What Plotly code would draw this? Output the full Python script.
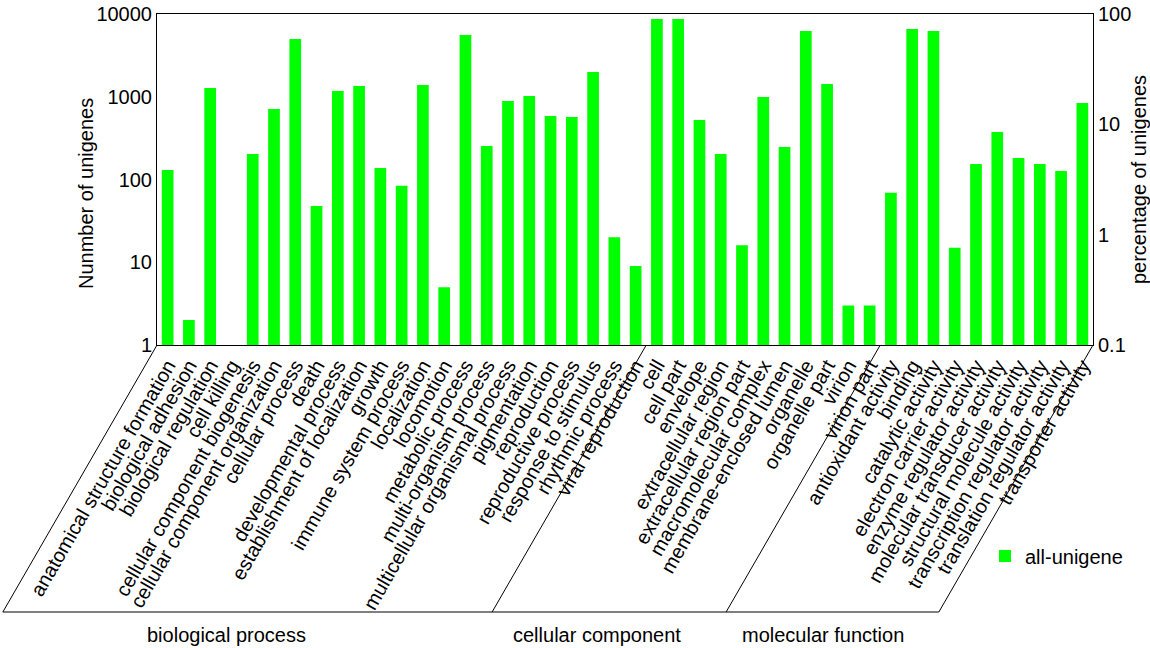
import math
import plotly.graph_objects as go

# ---------------- data ----------------
bio_terms = [
    "anatomical structure formation", "biological adhesion", "biological regulation",
    "cell killing", "cellular component biogenesis", "cellular component organization",
    "cellular process", "death", "developmental process", "establishment of localization",
    "growth", "immune system process", "localization", "locomotion", "metabolic process",
    "multi-organism process", "multicellular organismal process", "pigmentation",
    "reproduction", "reproductive process", "response to stimulus", "rhythmic process",
    "viral reproduction",
]
bio_counts = [130, 2, 1280, None, 203, 710, 4990, 48, 1170, 1350,
              138, 84, 1390, 5, 5580, 254, 890, 1020, 585, 570, 1990, 20, 9]

cc_terms = [
    "cell", "cell part", "envelope", "extracellular region", "extracellular region part",
    "macromolecular complex", "membrane-enclosed lumen", "organelle", "organelle part",
    "virion", "virion part",
]
cc_counts = [8700, 8700, 524, 203, 16, 993, 247, 6230, 1430, 3, 3]

mf_terms = [
    "antioxidant activity", "binding", "catalytic activity", "electron carrier activity",
    "enzyme regulator activity", "molecular transducer activity",
    "structural molecule activity", "transcription regulator activity",
    "translation regulator activity", "transporter activity",
]
mf_counts = [69, 6590, 6230, 15, 154, 375, 182, 154, 127, 840]

groups = ["biological process", "cellular component", "molecular function"]
left_ticks = [1, 10, 100, 1000, 10000]
right_ticks = [0.1, 1, 10, 100]
series_name = "all-unigene"
left_title = "Nunmber of unigenes"
right_title = "percentage of unigenes"

# ---------------- layout geometry ----------------
W, H = 1150, 648
ML, MR, MT, MB = 157, 57, 14, 303
PW, PH = W - ML - MR, H - MT - MB
FONT = "Arial, Liberation Sans, sans-serif"
GREEN = "#00ff00"

cats = bio_terms + cc_terms + mf_terms
vals = bio_counts + cc_counts + mf_counts
n = len(cats)

fig = go.Figure()
fig.add_trace(go.Bar(
    x=cats, y=vals, name=series_name, marker_color=GREEN, marker_line_width=0,
    yaxis="y",
))
fig.add_trace(go.Scatter(x=[cats[0]], y=[None], yaxis="y2", showlegend=False,
                         hoverinfo="skip", mode="markers"))

# slanted separators and bottom line
drop_px = 267
dx_px = drop_px / math.tan(math.radians(60))
dy_paper = -drop_px / PH
dx_paper = dx_px / PW
bounds = [0, len(bio_terms), len(bio_terms) + len(cc_terms), n]
shapes = []
for b in bounds:
    x0 = b / n
    shapes.append(dict(type="line", xref="paper", yref="paper", x0=x0, y0=0,
                       x1=x0 - dx_paper, y1=dy_paper, line=dict(color="black", width=1)))
shapes.append(dict(type="line", xref="paper", yref="paper", x0=-dx_paper, y0=dy_paper,
                   x1=1 - dx_paper, y1=dy_paper, line=dict(color="black", width=1)))

# group labels
label_px = [226, 597, 823]
annotations = []
for g, px in zip(groups, label_px):
    annotations.append(dict(text=g, xref="paper", yref="paper", x=(px - ML) / PW,
                            y=(H - MB - 635) / PH, showarrow=False,
                            font=dict(size=20, color="black", family=FONT),
                            xanchor="center", yanchor="middle"))
# left axis title
annotations.append(dict(text=left_title, xref="paper", yref="paper",
                        x=(86 - ML) / PW, y=(H - MB - 194) / PH, showarrow=False,
                        textangle=-90, font=dict(size=20, color="black", family=FONT),
                        xanchor="center", yanchor="middle"))

fig.update_layout(
    width=W, height=H,
    margin=dict(l=ML, r=MR, t=MT, b=MB, pad=0, autoexpand=False),
    paper_bgcolor="white", plot_bgcolor="white",
    font=dict(family=FONT, size=20, color="black"),
    bargap=0.45,
    shapes=shapes, annotations=annotations,
    showlegend=True,
    legend=dict(x=(985 - ML) / PW, y=(H - MB - 556) / PH, xanchor="left", yanchor="middle",
                font=dict(size=20, color="black", family=FONT), bgcolor="rgba(0,0,0,0)",
                itemwidth=30),
    xaxis=dict(type="category", tickmode="array", tickvals=cats, ticktext=cats,
               tickangle=-60, showline=True, linecolor="black", linewidth=1, mirror=True,
               ticks="", showgrid=False, tickfont=dict(size=20, family=FONT, color="black"),
               range=[-0.5, n - 0.5], automargin=False),
    yaxis=dict(type="log", range=[0, 4], tickvals=left_ticks,
               ticktext=[str(v) for v in left_ticks], showline=True, linecolor="black",
               linewidth=1, ticks="", showgrid=False, zeroline=False, automargin=False,
               tickfont=dict(size=20, family=FONT, color="black")),
    yaxis2=dict(type="log", range=[-1, 2], overlaying="y", side="right",
                tickvals=right_ticks, ticktext=[str(v) for v in right_ticks],
                showline=True, linecolor="black", linewidth=1, ticks="", showgrid=False,
                zeroline=False, automargin=False,
                title=dict(text=right_title, font=dict(size=20, family=FONT), standoff=4),
                tickfont=dict(size=20, family=FONT, color="black")),
)

fig.write_html("out.html", config={"displayModeBar": False},
               post_script="document.body.style.margin='0';document.body.style.overflow='hidden';")
